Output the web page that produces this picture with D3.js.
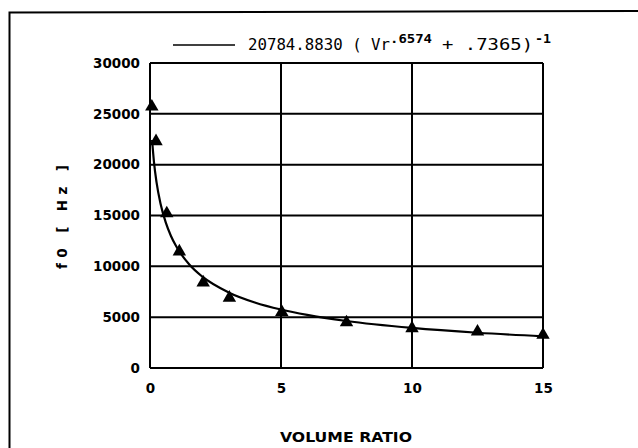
<!DOCTYPE html>
<html>
<head>
<meta charset="UTF-8">
<style>
  body { margin: 0; background: #fff; }
  svg { display: block; }
  .tick text { font-family: "DejaVu Sans", sans-serif; font-weight: bold; font-size: 13.5px; }
</style>
</head>
<body>
<div id="chart"></div>
<script src="https://cdn.jsdelivr.net/npm/d3@7/dist/d3.min.js"></script>
<script>
// measured points (triangles)
const ratioPts = [0.07, 0.23, 0.64, 1.12, 2.03, 3.03, 5.03, 7.5, 10, 12.5, 15];
const freqPts = [25700, 22300, 15200, 11450, 8400, 6900, 5500, 4480, 3900, 3570, 3250];

// fitted curve
const ratioFit = [0.08, 0.15, 0.25, 0.4, 0.6, 0.8, 1, 1.5, 2, 3, 4, 5, 6, 7.5, 10, 12.5, 15];
const freqFit = [22430, 20300, 18250, 16180, 14320, 12990, 11970, 10180, 8980, 7435, 6450, 5750, 5220, 4620, 3940, 3465, 3120];

const xTicks = [0, 5, 10, 15];
const yTicks = [0, 5000, 10000, 15000, 20000, 25000, 30000];

const W = 638, H = 448;
const plotL = 150, plotR = 543, plotT = 63, plotB = 368;

const svg = d3.select('#chart').append('svg')
  .attr('width', W)
  .attr('height', H);

// outer frame (page border, open on right/bottom)
svg.append('path')
  .attr('d', `M9.5,448 L9.5,12.5 L638,11`)
  .attr('fill', 'none')
  .attr('stroke', '#000')
  .attr('stroke-width', 2);

const x = d3.scaleLinear().domain([0, 15]).range([plotL, plotR]);
const y = d3.scaleLinear().domain([0, 30000]).range([plotB, plotT]);

// grid
const g = svg.append('g');
g.selectAll('.hg').data(yTicks).join('line')
  .attr('x1', plotL).attr('x2', plotR)
  .attr('y1', d => y(d)).attr('y2', d => y(d))
  .attr('stroke', '#000').attr('stroke-width', 2);
g.selectAll('.vg').data(xTicks).join('line')
  .attr('y1', plotT).attr('y2', plotB)
  .attr('x1', d => x(d)).attr('x2', d => x(d))
  .attr('stroke', '#000').attr('stroke-width', 2);

// axes labels
const yAxis = d3.axisLeft(y).tickValues(yTicks).tickSize(0).tickPadding(10).tickFormat(d3.format('d'));
svg.append('g').attr('transform', `translate(${plotL},0)`).call(yAxis)
  .call(s => s.select('.domain').remove());

const xAxis = d3.axisBottom(x).tickValues(xTicks).tickSize(0).tickPadding(15).tickFormat(d3.format('d'));
svg.append('g').attr('transform', `translate(0,${plotB})`).call(xAxis)
  .call(s => s.select('.domain').remove());

svg.append('text')
  .attr('x', 346).attr('y', 442)
  .attr('text-anchor', 'middle')
  .attr('textLength', 132)
  .attr('lengthAdjust', 'spacingAndGlyphs')
  .style('font-family', '"DejaVu Sans", sans-serif')
  .style('font-weight', 'bold')
  .style('font-size', '13.5px')
  .text('VOLUME RATIO');

svg.append('text')
  .attr('transform', 'translate(67,217) rotate(-90)')
  .attr('text-anchor', 'middle')
  .attr('textLength', 104)
  .style('font-family', '"DejaVu Sans", sans-serif')
  .style('font-weight', 'bold')
  .style('font-size', '13.5px')
  .text('f0 [ Hz ]');

// fit curve
const line = d3.line()
  .x((d, i) => x(ratioFit[i]))
  .y(d => y(d))
  .curve(d3.curveMonotoneX);

svg.append('path')
  .attr('d', line(freqFit))
  .attr('fill', 'none')
  .attr('stroke', '#000')
  .attr('stroke-width', 2.2);

// triangles
svg.selectAll('.pt').data(freqPts).join('path')
  .attr('transform', (d, i) => `translate(${x(ratioPts[i])},${y(d)})`)
  .attr('d', d3.symbol(d3.symbolTriangle, 78)())
  .attr('fill', '#000');

// legend
svg.append('line')
  .attr('x1', 173).attr('x2', 235)
  .attr('y1', 45).attr('y2', 45)
  .attr('stroke', '#000').attr('stroke-width', 1.5);

const lg = svg.append('g')
  .style('font-family', '"DejaVu Sans Mono", monospace')
  .style('font-size', '16px');
lg.append('text').attr('x', 248).attr('y', 50).attr('textLength', 142)
  .attr('lengthAdjust', 'spacingAndGlyphs').text('20784.8830 ( Vr');
lg.append('text').attr('x', 390).attr('y', 43).attr('textLength', 42)
  .attr('lengthAdjust', 'spacingAndGlyphs')
  .style('font-size', '12px').style('font-weight', 'bold').text('.6574');
lg.append('text').attr('x', 442).attr('y', 50).attr('textLength', 91)
  .attr('lengthAdjust', 'spacingAndGlyphs').text('+ .7365)');
lg.append('text').attr('x', 535).attr('y', 43).attr('textLength', 16)
  .attr('lengthAdjust', 'spacingAndGlyphs')
  .style('font-size', '12px').style('font-weight', 'bold').text('-1');
</script>
</body>
</html>
